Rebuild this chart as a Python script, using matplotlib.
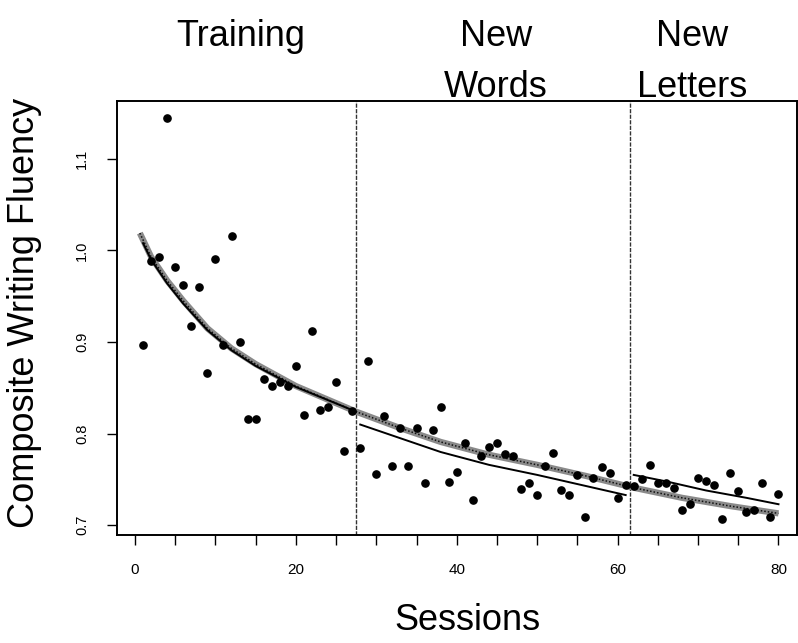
import numpy as np
import matplotlib
matplotlib.use('Agg')
import matplotlib.pyplot as plt
from matplotlib.ticker import MultipleLocator, FixedLocator

plt.rcParams['font.family'] = ['Liberation Sans', 'DejaVu Sans']

# one point per session
sessions = np.arange(1, 81)
fluency = [0.897, 0.989, 0.993, 1.145, 0.982, 0.962, 0.918, 0.960, 0.866, 0.991,
           0.897, 1.016, 0.900, 0.816, 0.816, 0.860, 0.852, 0.856, 0.852, 0.874,
           0.820, 0.912, 0.826, 0.829, 0.856, 0.781, 0.825, 0.784, 0.879, 0.756,
           0.819, 0.765, 0.806, 0.765, 0.806, 0.746, 0.804, 0.829, 0.747, 0.758,
           0.790, 0.728, 0.776, 0.785, 0.790, 0.778, 0.776, 0.740, 0.746, 0.733,
           0.765, 0.779, 0.738, 0.733, 0.755, 0.709, 0.752, 0.764, 0.757, 0.730,
           0.744, 0.743, 0.751, 0.766, 0.746, 0.746, 0.741, 0.717, 0.723, 0.752,
           0.748, 0.744, 0.707, 0.757, 0.737, 0.714, 0.717, 0.746, 0.709, 0.734]

# single curve over all sessions (grey band)
overall_x = [0.6, 2, 4, 6, 9, 12, 15, 20, 27.5, 33, 38, 44, 50, 56, 62, 68, 74, 80]
overall_y = [1.019, 0.993, 0.967, 0.945, 0.915, 0.893, 0.876, 0.852, 0.824, 0.806,
             0.791, 0.777, 0.766, 0.754, 0.741, 0.730, 0.721, 0.713]

# separate curves per phase (black)
train_x = [1, 2, 4, 6, 9, 12, 15, 20, 27.5]
train_y = [1.008, 0.990, 0.964, 0.942, 0.913, 0.891, 0.874, 0.851, 0.824]
words_x = [28, 33, 38, 44, 50, 56, 61]
words_y = [0.810, 0.795, 0.780, 0.766, 0.755, 0.743, 0.733]
letters_x = [62, 66, 71, 76, 80]
letters_y = [0.755, 0.748, 0.738, 0.730, 0.723]

phase_breaks = [27.5, 61.5]

fig = plt.figure(figsize=(7.98, 6.43), dpi=100)
ax = fig.add_axes([117/798, 1 - 535/643, 680/798, 434/643])

ax.plot(overall_x, overall_y, color='#8a8a8a', lw=4.5, solid_capstyle='butt', zorder=2)
ax.plot(overall_x, overall_y, color='#111111', lw=1.1, ls=(0, (1, 1.3)), zorder=2)
for xs, ys in [(train_x, train_y), (words_x, words_y), (letters_x, letters_y)]:
    ax.plot(xs, ys, color='black', lw=1.4, zorder=3)

ax.plot(sessions, fluency, 'o', color='black', markersize=5.2, zorder=4)

for b in phase_breaks:
    ax.axvline(b, color='#333333', lw=1.0, ls=(0, (3, 1)), zorder=1)

ax.set_xlim(-2.24, 82.3)
ax.set_ylim(0.6894, 1.1632)

ax.xaxis.set_major_locator(FixedLocator([0, 20, 40, 60, 80]))
ax.xaxis.set_minor_locator(MultipleLocator(5))
ax.set_yticks([0.7, 0.8, 0.9, 1.0, 1.1])
ax.set_yticklabels(['0.7', '0.8', '0.9', '1.0', '1.1'], rotation=90, va='center')
ax.tick_params(axis='x', which='both', direction='out', length=7, width=1, labelsize=11, pad=13)
ax.tick_params(axis='y', direction='out', length=7, width=1, labelsize=10.5, pad=13)

for sp in ax.spines.values():
    sp.set_linewidth(1.4)

fig.text(25/798, 1 - 313/643, 'Composite Writing Fluency', rotation=90,
         ha='center', va='center', fontsize=26)
fig.text(467/798, 1 - 620/643, 'Sessions', ha='center', va='center', fontsize=26)

fig.text(241/798, 1 - 45.5/643, 'Training', ha='center', va='baseline', fontsize=26)
fig.text(496/798, 1 - 45.5/643, 'New', ha='center', va='baseline', fontsize=26)
fig.text(496/798, 1 - 97/643, 'Words', ha='center', va='baseline', fontsize=26)
fig.text(692/798, 1 - 45.5/643, 'New', ha='center', va='baseline', fontsize=26)
fig.text(692/798, 1 - 97/643, 'Letters', ha='center', va='baseline', fontsize=26)

fig.savefig('out.png', dpi=100)
